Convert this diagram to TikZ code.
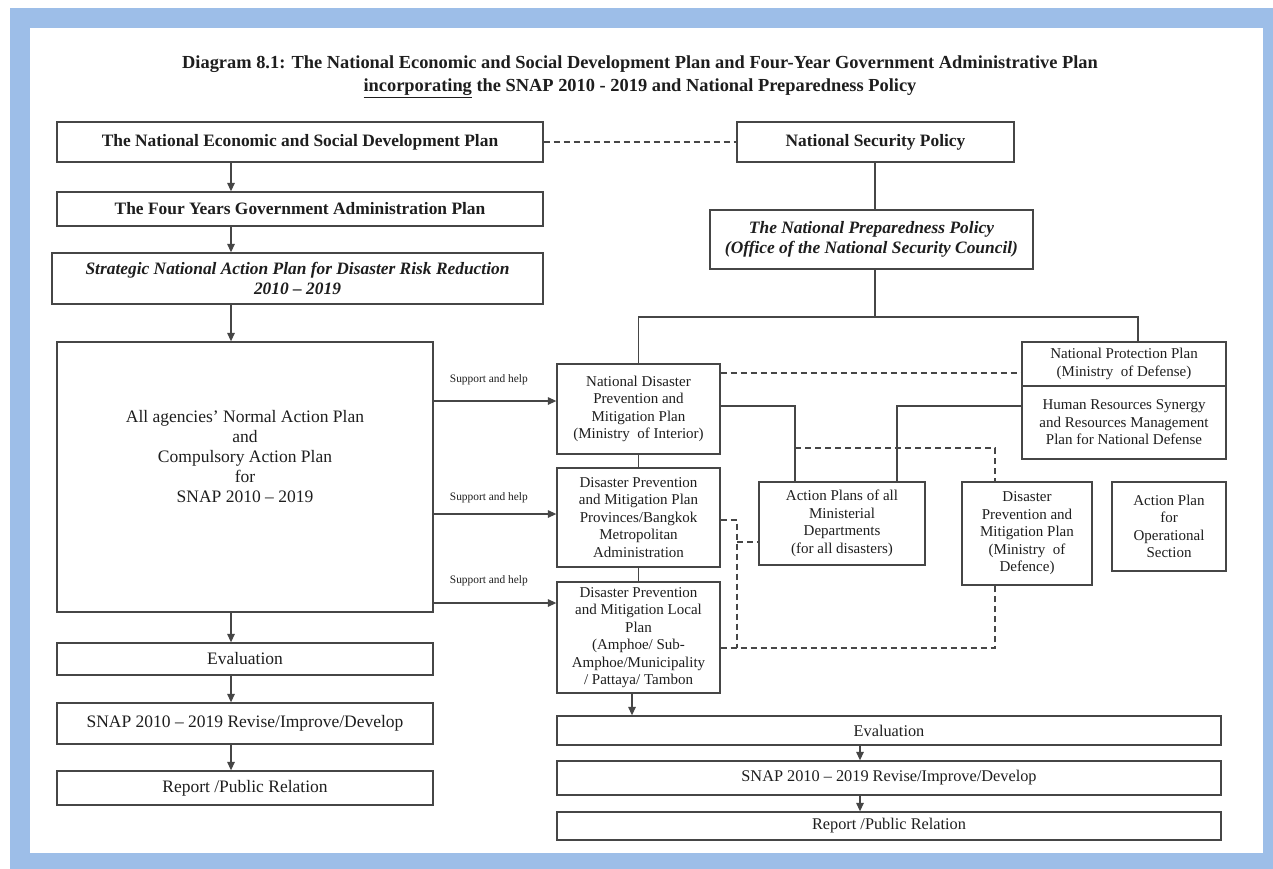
\documentclass[tikz,border=0pt]{standalone}
\usepackage{fontspec}
\setmainfont{Liberation Serif}
\usetikzlibrary{arrows.meta}
\definecolor{frameblue}{RGB}{157,190,232}
\definecolor{lnc}{RGB}{70,70,70}
\definecolor{txc}{RGB}{30,30,30}
\begin{document}
\begin{tikzpicture}[x=1pt,y=-1pt,
  box/.style={draw=lnc, line width=1.3pt, fill=white, inner sep=0pt, align=center, text=txc},
  bigB/.style={box, font=\fontsize{17.4}{20}\selectfont\bfseries},
  bigBI/.style={box, font=\fontsize{17.4}{20}\selectfont\bfseries\itshape},
  midB/.style={box, font=\fontsize{17.5}{20}\selectfont},
  smallB/.style={box, font=\fontsize{15}{17.5}\selectfont},
  rB/.style={box, font=\fontsize{16.3}{19}\selectfont},
  plaintext/.style={inner sep=0pt, align=center, text=txc},
  sup/.style={inner sep=0pt, text=txc, font=\fontsize{11.4}{13}\selectfont},
  conn/.style={draw=lnc, line width=1.3pt},
  dsh/.style={conn, dash pattern=on 6pt off 4pt, line width=1.4pt},
  arr/.style={conn, -{Triangle[length=8.5pt,width=7.5pt]}}
]
\useasboundingbox (0,0) rectangle (1273,869);
\fill[frameblue] (10,8) rectangle (1273,869);
\fill[white] (30,28) rectangle (1263,853);

% title
\node[plaintext, font=\fontsize{18.4}{23}\selectfont\bfseries] (title) at (640,77)
  {Diagram 8.1: The National Economic and Social Development Plan and Four-Year Government Administrative Plan\\
   \underline{incorporating} the SNAP 2010 - 2019 and National Preparedness Policy};

% left column
\node[bigB, minimum width=486pt, minimum height=40pt] (nesdp) at (300,142) {The National Economic and Social Development Plan};
\node[bigB, minimum width=486pt, minimum height=34pt] (four) at (300,209) {The Four Years Government Administration Plan};
\node[bigBI, minimum width=491pt, minimum height=51pt] (snap) at (297.5,278.5) {Strategic National Action Plan for Disaster Risk Reduction\\2010 -- 2019};
\node[box, minimum width=376pt, minimum height=270pt] (allag) at (245,477) {};
\node[plaintext, font=\fontsize{17.5}{20}\selectfont] (allagT) at (245,457) {All agencies' Normal Action Plan\\and\\Compulsory Action Plan\\for\\SNAP 2010 -- 2019};
\node[midB, minimum width=376pt, minimum height=32pt] (evalL) at (245,659) {Evaluation};
\node[midB, minimum width=376pt, minimum height=41pt] (revL) at (245,723.5) {SNAP 2010 -- 2019 Revise/Improve/Develop};
\node[midB, minimum width=376pt, minimum height=34pt] (repL) at (245,788) {Report /Public Relation};

% right top
\node[bigB, minimum width=277pt, minimum height=40pt] (nsp) at (875.5,142) {National Security Policy};
\node[bigBI, minimum width=323pt, minimum height=59pt] (npp) at (871.5,239.5) {The National Preparedness Policy\\(Office of the National Security Council)};

% middle column
\node[smallB, minimum width=163pt, minimum height=90pt] (ndpmp) at (638.5,409) {National Disaster\\Prevention and\\Mitigation Plan\\(Ministry\ \ of Interior)};
\node[smallB, minimum width=163pt, minimum height=99pt] (prov) at (638.5,517.5) {Disaster Prevention\\and Mitigation Plan\\Provinces/Bangkok\\Metropolitan\\Administration};
\node[smallB, minimum width=163pt, minimum height=111pt] (local) at (638.5,637.5) {Disaster Prevention\\and Mitigation Local\\Plan\\(Amphoe/ Sub-\\Amphoe/Municipality\\/ Pattaya/ Tambon};

% right boxes
\node[smallB, minimum width=204pt, minimum height=44pt] (nprot) at (1124,364) {National Protection Plan\\(Ministry\ \ of Defense)};
\node[smallB, minimum width=204pt, minimum height=73pt] (hr) at (1124,422.5) {Human Resources Synergy\\and Resources Management\\Plan for National Defense};
\node[smallB, minimum width=166pt, minimum height=83pt] (actp) at (842,523.5) {Action Plans of all\\Ministerial\\Departments\\(for all disasters)};
\node[smallB, minimum width=130pt, minimum height=103pt] (def) at (1027,533.5) {Disaster\\Prevention and\\Mitigation Plan\\(Ministry\ \ of\\Defence)};
\node[smallB, minimum width=114pt, minimum height=89pt] (ops) at (1169,526.5) {Action Plan\\for\\Operational\\Section};

% right bottom
\node[rB, minimum width=664pt, minimum height=29pt] (evalR) at (889,730.5) {Evaluation};
\node[rB, minimum width=664pt, minimum height=34pt] (revR) at (889,778) {SNAP 2010 -- 2019 Revise/Improve/Develop};
\node[rB, minimum width=664pt, minimum height=28pt] (repR) at (889,826) {Report /Public Relation};

% helper coordinates
\coordinate (lx) at (231,0);
\coordinate (la) at (632,0);
\coordinate (ra) at (860,0);
\coordinate (tx) at (875,0);
\coordinate (br) at (875,317);
\coordinate (brR) at (1138,317);
\coordinate (s1) at (0,401);
\coordinate (s2) at (0,514);
\coordinate (s3) at (0,603);
\coordinate (d1) at (0,373);
\coordinate (j1) at (0,406);
\coordinate (vx1) at (795,0);
\coordinate (vx2) at (897,0);
\coordinate (dd) at (795,448);
\coordinate (dx) at (995,0);
\coordinate (p1) at (0,520);
\coordinate (vx3) at (737,0);
\coordinate (st) at (0,542);
\coordinate (bot) at (0,648);

% left arrows
\draw[arr] (nesdp.south -| lx) -- (four.north -| lx);
\draw[arr] (four.south -| lx) -- (snap.north -| lx);
\draw[arr] (snap.south -| lx) -- (allag.north -| lx);
\draw[arr] (allag.south -| lx) -- (evalL.north -| lx);
\draw[arr] (evalL.south -| lx) -- (revL.north -| lx);
\draw[arr] (revL.south -| lx) -- (repL.north -| lx);

% top links
\draw[dsh] (nesdp.east) -- (nsp.west);
\draw[conn] (nsp.south -| tx) -- (npp.north -| tx);
\draw[conn] (npp.south -| tx) -- (br);
\draw[conn] (ndpmp.north) |- (brR) -- (nprot.north -| brR);

% support arrows
\draw[arr] (allag.east |- s1) -- node[sup, above=15pt, pos=0.45] {Support and help} (ndpmp.west |- s1);
\draw[arr] (allag.east |- s2) -- node[sup, above=10pt, pos=0.45] {Support and help} (prov.west |- s2);
\draw[arr] (allag.east |- s3) -- node[sup, above=16pt, pos=0.45] {Support and help} (local.west |- s3);

% middle column links
\draw[conn] (ndpmp.south) -- (prov.north);
\draw[conn] (prov.south) -- (local.north);
\draw[arr] (local.south -| la) -- (evalR.north -| la);
\draw[arr] (evalR.south -| ra) -- (revR.north -| ra);
\draw[arr] (revR.south -| ra) -- (repR.north -| ra);

% right links
\draw[dsh] (ndpmp.east |- d1) -- (nprot.west |- d1);
\draw[conn] (ndpmp.east |- j1) -| (actp.north -| vx1);
\draw[conn] (hr.west |- j1) -| (actp.north -| vx2);
\draw[dsh] (dd) -| (def.north -| dx);
\draw[dsh] (prov.east |- p1) -| (vx3 |- bot);
\draw[dsh] (vx3 |- st) -- (actp.west |- st);
\draw[dsh] (local.east |- bot) -| (def.south -| dx);
\end{tikzpicture}
\end{document}
